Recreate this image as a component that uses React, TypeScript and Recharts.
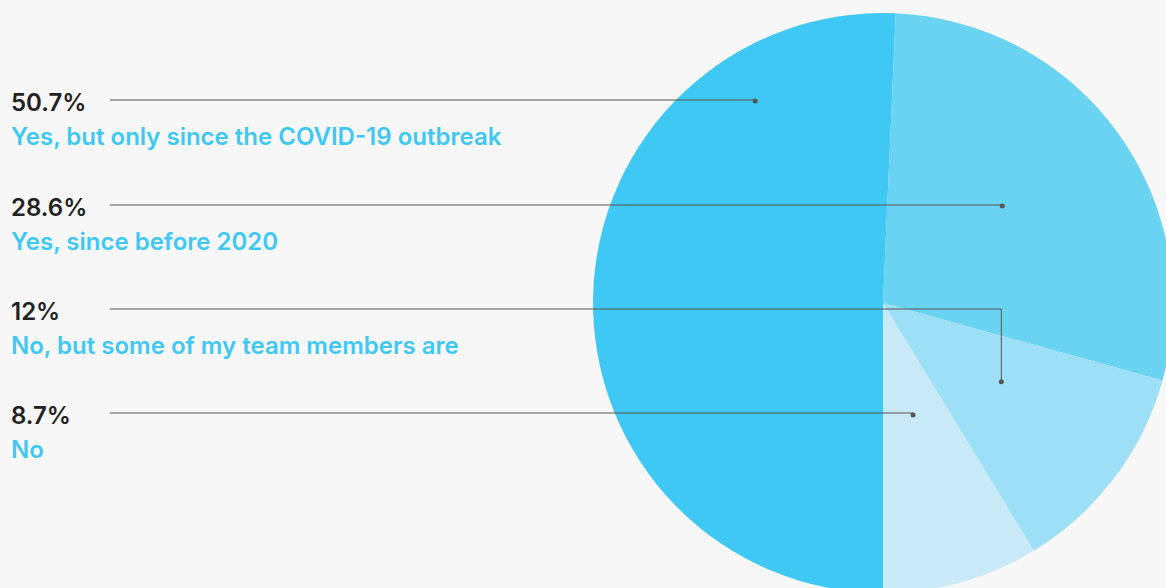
import { Pie, PieChart, Cell } from 'recharts'

const CATEGORIES = [
  'Yes, but only since the COVID-19 outbreak',
  'Yes, since before 2020',
  'No, but some of my team members are',
  'No',
]
const SHARES = [50.7, 28.6, 12, 8.7]
const PERCENT_LABELS = ['50.7%', '28.6%', '12%', '8.7%']

const SLICE_COLORS = ['#40c8f4', '#6bd3f2', '#9ddff6', '#c8eaf6']

// where each leader line lands inside its slice: t = position along the arc, r = radius fraction
const ANCHORS = [
  { t: 0.809, r: 0.824 },
  { t: 0.47, r: 0.53 },
  { t: 0.42, r: 0.49 },
  { t: 0.52, r: 0.4 },
]
const ROW_Y = [100, 205, 309, 413]

const WIDTH = 1166
const HEIGHT = 588
const RAD = Math.PI / 180
const FONT = 'Inter, "Liberation Sans", Arial, sans-serif'

const data = CATEGORIES.map((name, i) => ({
  name,
  value: SHARES[i],
  pct: PERCENT_LABELS[i],
}))

function renderLabel(props: any) {
  const { cx, cy, outerRadius, startAngle, endAngle, index } = props
  const anchor = ANCHORS[index]
  const angle = startAngle + (endAngle - startAngle) * anchor.t
  const r = outerRadius * anchor.r
  const dotX = cx + r * Math.cos(angle * RAD)
  const dotY = cy - r * Math.sin(angle * RAD)
  const rowY = ROW_Y[index]
  return (
    <g key={`label-${index}`}>
      <polyline
        points={`110,${rowY} ${dotX},${rowY} ${dotX},${dotY}`}
        fill="none"
        stroke="#555"
        strokeWidth={1}
      />
      <circle cx={dotX} cy={dotY} r={2.5} fill="#555" />
      <text
        x={11}
        y={rowY + 11}
        fill="#222"
        fontSize={24}
        fontWeight={600}
        fontFamily={FONT}
      >
        {data[index].pct}
      </text>
      <text
        x={11}
        y={rowY + 45}
        fill="#40c8f4"
        fontSize={24}
        fontWeight={600}
        fontFamily={FONT}
      >
        {data[index].name}
      </text>
    </g>
  )
}

export default function App() {
  return (
    <div style={{ width: WIDTH, height: HEIGHT, background: '#f7f7f7' }}>
      <style>{'body{margin:0}'}</style>
      <PieChart
        width={WIDTH}
        height={HEIGHT}
        margin={{ top: 0, right: 0, bottom: 0, left: 0 }}
      >
        <Pie
          data={data}
          dataKey="value"
          nameKey="name"
          cx={883}
          cy={303}
          outerRadius={290}
          startAngle={270}
          endAngle={-90}
          stroke="none"
          label={renderLabel}
          labelLine={false}
          isAnimationActive={false}
        >
          {data.map((entry, i) => (
            <Cell key={entry.name} fill={SLICE_COLORS[i]} />
          ))}
        </Pie>
      </PieChart>
    </div>
  )
}
